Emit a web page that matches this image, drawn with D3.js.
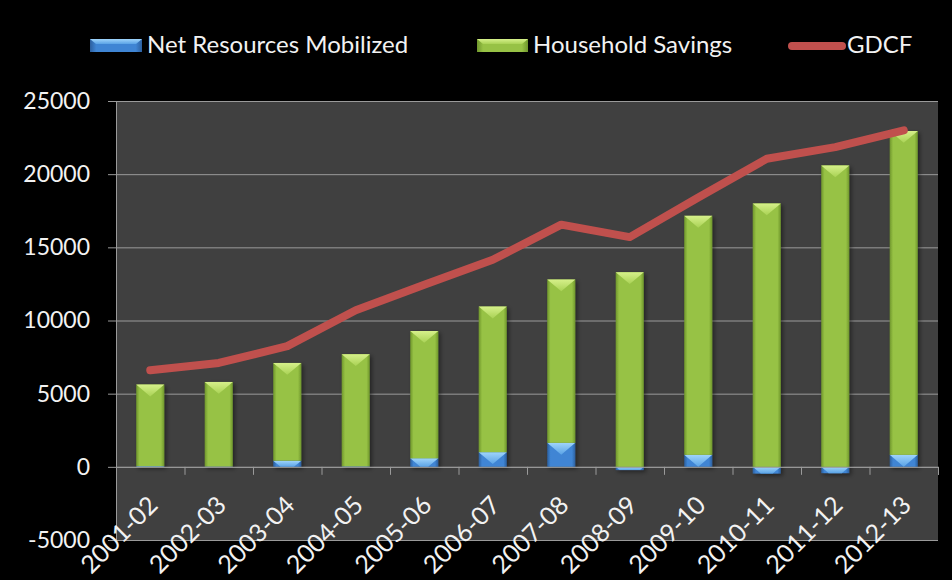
<!DOCTYPE html>
<html>
<head>
<meta charset="utf-8">
<script src="https://cdn.jsdelivr.net/npm/d3@7"></script>
<style>
  html, body { margin: 0; padding: 0; background: #000; }
  svg { display: block; }
  text { font-family: Lato, "Open Sans", sans-serif; fill: #f2f2f2; }
</style>
</head>
<body>
<svg id="chart" width="952" height="580"></svg>
<script>
// Years (fiscal) on the category axis
const categories = ['2001-02', '2002-03', '2003-04', '2004-05', '2005-06', '2006-07',
                    '2007-08', '2008-09', '2009-10', '2010-11', '2011-12', '2012-13'];
// Net resources mobilized (stacked at the base, may be negative)
const netResources = [40, 20, 420, 30, 580, 1000, 1640, -220, 820, -460, -430, 820];
// Household savings (stacked above the positive net resources)
const householdSavings = [5580, 5780, 6680, 7670, 8700, 9950, 11160, 13300, 16330, 18000, 20600, 22130];
// Gross domestic capital formation
const gdcf = [6600, 7100, 8250, 10700, 12450, 14150, 16550, 15700, 18400, 21050, 21850, 23000];
const yTicks = [-5000, 0, 5000, 10000, 15000, 20000, 25000];

const svg = d3.select('#chart');
const W = 952, H = 580;
const plot = { left: 116, right: 938, top: 101, bottom: 540 };

svg.append('rect').attr('width', W).attr('height', H).attr('fill', '#000');

const x = d3.scaleBand().domain(categories).range([plot.left, plot.right]);
const y = d3.scaleLinear().domain([-5000, 25000]).range([plot.bottom, plot.top]);
const xEdge = d3.scaleLinear().domain([0, categories.length]).range([plot.left, plot.right]);

// gradients for the bevelled bars
const defs = svg.append('defs');
function hGrad(id, edge, mid) {
  const g = defs.append('linearGradient').attr('id', id).attr('x1', 0).attr('x2', 1).attr('y1', 0).attr('y2', 0);
  g.append('stop').attr('offset', 0).attr('stop-color', edge);
  g.append('stop').attr('offset', 0.12).attr('stop-color', mid);
  g.append('stop').attr('offset', 0.88).attr('stop-color', mid);
  g.append('stop').attr('offset', 1).attr('stop-color', edge);
}
hGrad('gGreen', '#6f962c', '#97c245');
hGrad('gBlue', '#2c5f9e', '#3f85d4');
function vGrad(id, top, bottom) {
  const g = defs.append('linearGradient').attr('id', id).attr('x1', 0).attr('x2', 0).attr('y1', 0).attr('y2', 1);
  g.append('stop').attr('offset', 0).attr('stop-color', top);
  g.append('stop').attr('offset', 1).attr('stop-color', bottom);
}
vGrad('gGreenTop', '#d6f08a', '#a9d255');
vGrad('gBlueTop', '#9fd4fb', '#5aa3e6');
const shadow = defs.append('filter').attr('id', 'shadow').attr('x', '-30%').attr('y', '-10%').attr('width', '170%').attr('height', '130%');
shadow.append('feDropShadow').attr('dx', 2).attr('dy', 2).attr('stdDeviation', 2).attr('flood-color', '#000').attr('flood-opacity', 0.45);

// plot area
svg.append('rect')
  .attr('x', plot.left).attr('y', plot.top)
  .attr('width', plot.right - plot.left).attr('height', plot.bottom - plot.top)
  .attr('fill', '#404040');

// gridlines
svg.append('g')
  .attr('transform', `translate(${plot.left},0)`)
  .call(d3.axisLeft(y).tickValues(yTicks).tickSize(-(plot.right - plot.left)).tickFormat(''))
  .call(g => g.select('.domain').remove())
  .call(g => g.selectAll('line').attr('stroke', '#9a9a9a').attr('stroke-width', 1));

// y axis (plain hyphen-minus for negatives)
svg.append('g')
  .attr('transform', `translate(${plot.left},0)`)
  .call(d3.axisLeft(y).tickValues(yTicks).tickFormat(d => String(d)).tickSize(8).tickPadding(18).tickSizeOuter(0))
  .call(g => g.select('.domain').attr('stroke', '#9a9a9a'))
  .call(g => g.selectAll('line').attr('stroke', '#9a9a9a'))
  .call(g => g.selectAll('text').attr('font-size', 23).attr('fill', '#f2f2f2').attr('font-family', 'Lato, sans-serif'));

// stacked bars
const rows = categories.map((c, i) => ({ cat: c, net: netResources[i], house: householdSavings[i] }));
const stack = d3.stack().keys(['net', 'house']).offset(d3.stackOffsetDiverging);
const series = stack(rows);
const fills = { net: ['url(#gBlue)', 'url(#gBlueTop)'], house: ['url(#gGreen)', 'url(#gGreenTop)'] };
const barW = x.bandwidth() * 0.41;

const barsG = svg.append('g').attr('filter', 'url(#shadow)');
series.forEach(s => {
  const g = barsG.append('g');
  s.forEach(d => {
    const c = d.data.cat;
    const x0 = x(c) + (x.bandwidth() - barW) / 2;
    const top = y(Math.max(d[0], d[1]));
    const bot = y(Math.min(d[0], d[1]));
    const h = bot - top;
    if (h <= 0.2) return;
    g.append('rect').attr('x', x0).attr('y', top).attr('width', barW).attr('height', h)
      .attr('fill', fills[s.key][0]);
    // top bevel: light triangle pointing down, truncated on short segments
    const depth = barW * 0.42;
    const dd = Math.min(depth, h);
    const k = dd / depth;
    const xc = x0 + barW / 2;
    const pts = k >= 1
      ? [[x0, top], [x0 + barW, top], [xc, top + dd]]
      : [[x0, top], [x0 + barW, top], [xc + (barW / 2) * (1 - k), top + dd], [xc - (barW / 2) * (1 - k), top + dd]];
    g.append('polygon').attr('points', pts.map(p => p.join(',')).join(' '))
      .attr('fill', fills[s.key][1]);
  });
});

// x axis ticks at category boundaries
svg.append('g')
  .attr('transform', `translate(0,${y(0)})`)
  .call(d3.axisBottom(xEdge).tickValues(d3.range(categories.length + 1)).tickSize(8).tickFormat(''))
  .call(g => g.select('.domain').attr('stroke', '#9a9a9a'))
  .call(g => g.selectAll('line').attr('stroke', '#9a9a9a'));

// rotated category labels
svg.append('g').selectAll('text').data(categories).join('text')
  .attr('transform', d => `translate(${x(d) + x.bandwidth() / 2 + 9},${y(0) + 40}) rotate(-45)`)
  .attr('text-anchor', 'end')
  .attr('font-size', 25)
  .text(d => d);

// GDCF line
const line = d3.line().x((d, i) => x(categories[i]) + x.bandwidth() / 2).y(d => y(d));
svg.append('path').datum(gdcf)
  .attr('d', line)
  .attr('fill', 'none')
  .attr('stroke', '#c0504d')
  .attr('stroke-width', 8)
  .attr('stroke-linecap', 'round')
  .attr('stroke-linejoin', 'round');

// legend
const legend = svg.append('g');
function barSwatch(x0, w, body, topFill) {
  legend.append('rect').attr('x', x0).attr('y', 39).attr('width', w).attr('height', 13).attr('fill', body);
  legend.append('polygon')
    .attr('points', `${x0},39 ${x0 + w},39 ${x0 + w - 6},44 ${x0 + 6},44`)
    .attr('fill', topFill);
}
barSwatch(90, 52, 'url(#gBlue)', 'url(#gBlueTop)');
legend.append('text').attr('x', 147).attr('y', 53).attr('font-size', 24).text('Net Resources Mobilized');
barSwatch(477, 51, 'url(#gGreen)', 'url(#gGreenTop)');
legend.append('text').attr('x', 533).attr('y', 53).attr('font-size', 24).text('Household Savings');
legend.append('line').attr('x1', 792).attr('x2', 842).attr('y1', 46).attr('y2', 46)
  .attr('stroke', '#c0504d').attr('stroke-width', 8).attr('stroke-linecap', 'round');
legend.append('text').attr('x', 847).attr('y', 53).attr('font-size', 24).text('GDCF');
</script>
</body>
</html>
